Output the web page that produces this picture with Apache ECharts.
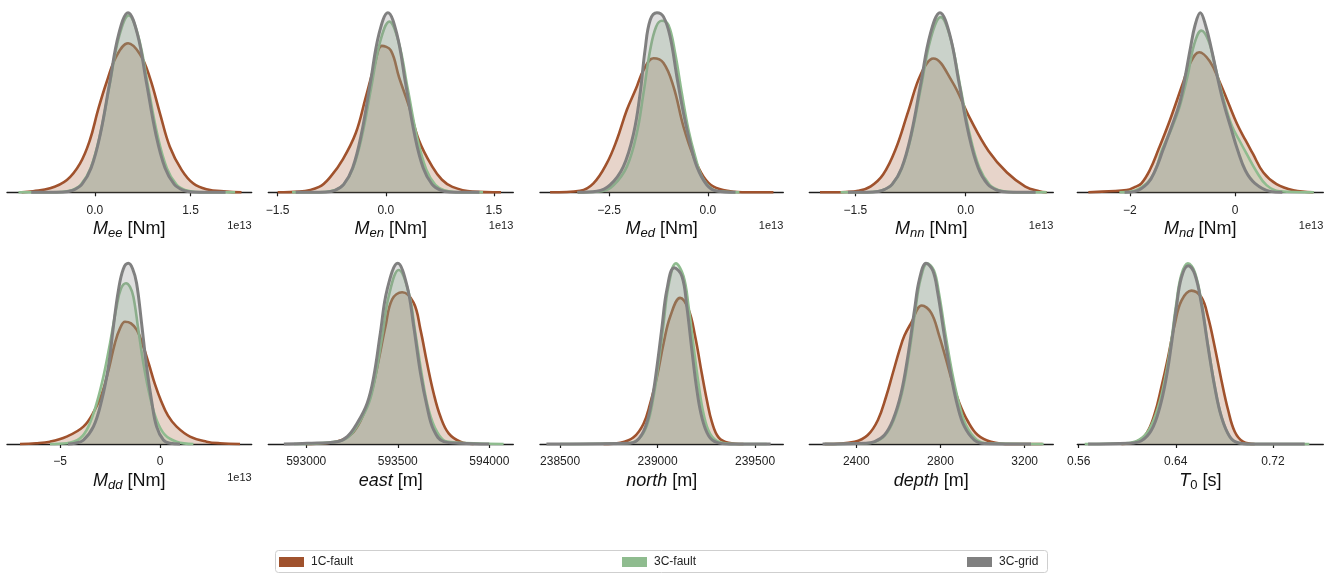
<!DOCTYPE html>
<html><head><meta charset="utf-8">
<script src="https://cdn.jsdelivr.net/npm/echarts@6/dist/echarts.min.js"></script>
<style>html,body{margin:0;padding:0;background:#fff}#chart{width:1333px;height:575px}</style>
</head><body><div id="chart"></div>
<script>
// ---------------- DATA (relative density) ----------------
const seriesNames = ['1C-fault', '3C-fault', '3C-grid'];

const mee1C = [[-1.15,0],[-0.97,0.006],[-0.705,0.022],[-0.44,0.069],[-0.235,0.16],[-0.08,0.29],[0.05,0.46],[0.18,0.61],[0.34,0.76],[0.52,0.83],[0.705,0.77],[0.86,0.64],[1.02,0.44],[1.175,0.254],[1.36,0.125],[1.54,0.05],[1.75,0.017],[2.06,0.004],[2.3,0]];
const mee3Cf = [[-1.2,0],[-0.52,0.002],[-0.37,0.011],[-0.22,0.043],[-0.07,0.133],[0.08,0.32],[0.23,0.597],[0.38,0.869],[0.53,0.985],[0.68,0.869],[0.83,0.597],[0.98,0.32],[1.13,0.133],[1.28,0.043],[1.43,0.011],[1.58,0.002],[2.2,0]];
const mee3Cg = [[-1.0,0],[-0.495,0.002],[-0.35,0.011],[-0.205,0.044],[-0.06,0.135],[0.085,0.325],[0.23,0.607],[0.375,0.883],[0.52,1],[0.665,0.883],[0.81,0.607],[0.955,0.325],[1.1,0.135],[1.245,0.044],[1.39,0.011],[1.535,0.002],[2.05,0]];

const men1C = [[-1.5,0],[-1.2,0.004],[-0.925,0.03],[-0.76,0.09],[-0.6,0.18],[-0.416,0.33],[-0.277,0.53],[-0.16,0.70],[-0.055,0.815],[0.07,0.79],[0.185,0.64],[0.324,0.477],[0.46,0.29],[0.65,0.14],[0.78,0.07],[0.925,0.03],[1.2,0.004],[1.6,0]];
const men3Cf = [[-1.3,0],[-0.843,0.002],[-0.715,0.011],[-0.588,0.042],[-0.46,0.129],[-0.333,0.308],[-0.205,0.576],[-0.078,0.838],[0.05,0.95],[0.178,0.838],[0.305,0.576],[0.433,0.308],[0.56,0.129],[0.688,0.042],[0.815,0.011],[0.943,0.002],[1.35,0]];
const men3Cg = [[-1.25,0],[-0.828,0.002],[-0.705,0.011],[-0.583,0.044],[-0.46,0.135],[-0.338,0.325],[-0.215,0.607],[-0.093,0.883],[0.03,1],[0.153,0.883],[0.275,0.607],[0.398,0.325],[0.52,0.135],[0.643,0.044],[0.765,0.011],[0.888,0.002],[1.3,0]];

const med1C = [[-3.995,0],[-3.235,0.009],[-2.897,0.05],[-2.56,0.161],[-2.306,0.291],[-2.052,0.458],[-1.816,0.579],[-1.63,0.68],[-1.377,0.746],[-1.123,0.72],[-0.87,0.588],[-0.617,0.365],[-0.363,0.199],[-0.11,0.087],[0.144,0.031],[0.566,0.006],[0.988,0],[1.66,0]];
const med3Cf = [[-3.3,0],[-2.686,0.006],[-2.39,0.039],[-2.05,0.143],[-1.8,0.328],[-1.63,0.551],[-1.46,0.793],[-1.31,0.922],[-1.165,0.955],[-0.997,0.931],[-0.828,0.774],[-0.659,0.551],[-0.49,0.347],[-0.32,0.199],[-0.152,0.087],[0.1,0.02],[0.355,0.004],[0.8,0]];
const med3Cg = [[-3.3,0],[-2.81,0.006],[-2.475,0.041],[-2.14,0.143],[-1.88,0.328],[-1.715,0.551],[-1.59,0.793],[-1.46,0.959],[-1.29,1.0],[-1.125,0.978],[-0.955,0.866],[-0.785,0.644],[-0.617,0.44],[-0.448,0.273],[-0.279,0.143],[-0.025,0.041],[0.228,0.007],[0.7,0]];

const mnn1C = [[-1.98,0],[-1.63,0.002],[-1.46,0.008],[-1.29,0.033],[-1.12,0.10],[-0.95,0.242],[-0.78,0.452],[-0.61,0.657],[-0.44,0.745],[-0.19,0.62],[0.06,0.41],[0.31,0.23],[0.56,0.11],[0.81,0.032],[1.0,0.006],[1.1,0]];
const mnn3Cf = [[-1.7,0],[-1.268,0.002],[-1.135,0.011],[-1.003,0.043],[-0.87,0.132],[-0.738,0.317],[-0.605,0.591],[-0.473,0.86],[-0.34,0.975],[-0.208,0.86],[-0.075,0.591],[0.058,0.317],[0.19,0.132],[0.323,0.043],[0.455,0.011],[0.588,0.002],[1.1,0]];
const mnn3Cg = [[-1.6,0],[-1.26,0.002],[-1.13,0.011],[-1.0,0.044],[-0.87,0.135],[-0.74,0.325],[-0.61,0.607],[-0.48,0.883],[-0.35,1],[-0.22,0.883],[-0.09,0.607],[0.04,0.325],[0.17,0.135],[0.3,0.044],[0.43,0.011],[0.56,0.002],[0.95,0]];

const mnd1C = [[-2.79,0],[-2.4,0.006],[-2.06,0.012],[-1.9,0.03],[-1.78,0.05],[-1.62,0.124],[-1.46,0.235],[-1.24,0.4],[-1.0,0.6],[-0.85,0.72],[-0.68,0.78],[-0.48,0.73],[-0.3,0.62],[-0.13,0.5],[0.04,0.38],[0.2,0.29],[0.34,0.215],[0.54,0.11],[0.79,0.045],[1.11,0.011],[1.49,0]];
const mnd3Cf = [[-2.2,0],[-1.95,0.005],[-1.68,0.05],[-1.52,0.12],[-1.39,0.235],[-1.2,0.36],[-1.05,0.48],[-0.9,0.65],[-0.78,0.82],[-0.64,0.9],[-0.5,0.84],[-0.36,0.68],[-0.22,0.52],[-0.06,0.37],[0.1,0.28],[0.22,0.215],[0.4,0.12],[0.6,0.04],[0.85,0.006],[1.5,0]];
const mnd3Cg = [[-2.1,0],[-1.9,0.005],[-1.66,0.05],[-1.52,0.12],[-1.37,0.235],[-1.2,0.37],[-1.05,0.5],[-0.95,0.64],[-0.85,0.8],[-0.76,0.93],[-0.66,1.0],[-0.56,0.93],[-0.45,0.8],[-0.34,0.65],[-0.22,0.5],[-0.08,0.36],[0.05,0.235],[0.2,0.12],[0.38,0.05],[0.67,0.005],[0.9,0]];

const mdd1C = [[-7.0,0],[-6.2,0.004],[-5.5,0.013],[-4.67,0.041],[-3.83,0.096],[-3.3,0.18],[-2.9,0.28],[-2.55,0.42],[-2.25,0.56],[-2.0,0.64],[-1.75,0.677],[-1.45,0.668],[-1.15,0.63],[-0.85,0.545],[-0.55,0.44],[-0.25,0.33],[0.05,0.24],[0.4,0.157],[0.83,0.096],[1.5,0.041],[2.33,0.013],[3.0,0.004],[4.0,0]];
const mdd3Cf = [[-5.5,0],[-4.67,0.004],[-4.0,0.031],[-3.58,0.096],[-3.17,0.225],[-2.83,0.373],[-2.5,0.557],[-2.17,0.76],[-1.95,0.86],[-1.7,0.89],[-1.5,0.87],[-1.33,0.815],[-1.08,0.631],[-0.83,0.446],[-0.5,0.262],[-0.17,0.133],[0.25,0.05],[0.83,0.013],[1.67,0]];
const mdd3Cg = [[-4.6,0],[-4.25,0.004],[-3.83,0.022],[-3.33,0.096],[-2.92,0.24],[-2.58,0.428],[-2.33,0.65],[-2.08,0.85],[-1.83,0.97],[-1.58,1.0],[-1.37,0.97],[-1.17,0.89],[-0.92,0.668],[-0.67,0.428],[-0.42,0.24],[-0.17,0.096],[0.17,0.022],[0.5,0.004],[1.0,0]];

const east1C = [[593000,0],[593097,0.004],[593187,0.019],[593260,0.069],[593315,0.17],[593360,0.3],[593396,0.467],[593433,0.652],[593469,0.8],[593524,0.84],[593587,0.781],[593624,0.633],[593660,0.448],[593696,0.281],[593733,0.152],[593778,0.059],[593842,0.013],[593914,0]];
const east3Cf = [[592933,0],[593169,0.013],[593233,0.041],[593287,0.115],[593342,0.226],[593378,0.374],[593415,0.596],[593451,0.819],[593505,0.963],[593560,0.837],[593596,0.615],[593633,0.374],[593669,0.189],[593714,0.069],[593769,0.013],[593914,0.004],[594078,0]];
const east3Cg = [[592878,0],[593006,0.004],[593169,0.013],[593224,0.041],[593278,0.115],[593333,0.226],[593369,0.374],[593405,0.615],[593442,0.855],[593500,1.0],[593551,0.874],[593587,0.652],[593624,0.393],[593660,0.207],[593696,0.078],[593751,0.013],[593842,0.004],[594000,0]];

const north1C = [[238723,0],[238809,0.007],[238877,0.037],[238928,0.112],[238962,0.223],[238997,0.372],[239031,0.558],[239065,0.706],[239116,0.809],[239159,0.744],[239193,0.595],[239227,0.39],[239253,0.242],[239279,0.121],[239313,0.037],[239364,0.007],[239441,0]];
const north3Cf = [[238500,0],[238843,0.004],[238903,0.028],[238945,0.102],[238979,0.26],[239005,0.446],[239031,0.669],[239056,0.874],[239094,1.0],[239133,0.929],[239159,0.762],[239185,0.539],[239210,0.335],[239236,0.167],[239270,0.056],[239321,0.009],[239407,0],[239560,0]];
const north3Cg = [[238430,0],[238843,0.004],[238894,0.019],[238937,0.093],[238971,0.242],[238997,0.428],[239022,0.641],[239048,0.855],[239085,0.976],[239125,0.929],[239150,0.762],[239176,0.52],[239202,0.297],[239227,0.149],[239262,0.046],[239304,0.009],[239373,0],[239580,0]];

const depth1C = [[2250,0],[2392,0.013],[2455,0.05],[2503,0.133],[2542,0.263],[2574,0.393],[2606,0.522],[2629,0.6],[2661,0.67],[2711,0.767],[2756,0.726],[2795,0.596],[2827,0.467],[2858,0.337],[2890,0.226],[2930,0.126],[2977,0.05],[3040,0.013],[3135,0],[3285,0]];
const depth3Cf = [[2250,0],[2445,0.004],[2492,0.013],[2538,0.05],[2578,0.133],[2617,0.281],[2649,0.485],[2681,0.744],[2705,0.911],[2737,1.0],[2769,0.96],[2792,0.84],[2825,0.6],[2858,0.38],[2890,0.215],[2923,0.1],[2972,0.024],[3025,0.004],[3290,0]];
const depth3Cg = [[2240,0],[2440,0.004],[2487,0.013],[2534,0.05],[2574,0.133],[2613,0.281],[2645,0.485],[2677,0.744],[2700,0.911],[2732,1.0],[2764,0.959],[2787,0.837],[2819,0.596],[2851,0.374],[2882,0.207],[2914,0.096],[2961,0.022],[3009,0.003],[3230,0]];

const t01C = [[0.5953,0],[0.6076,0.013],[0.6159,0.059],[0.6227,0.169],[0.6282,0.316],[0.6337,0.482],[0.6392,0.665],[0.6447,0.794],[0.6529,0.849],[0.6611,0.812],[0.6666,0.702],[0.6721,0.537],[0.6776,0.353],[0.6831,0.188],[0.6886,0.068],[0.6954,0.013],[0.705,0]];
const t03Cf = [[0.565,0],[0.5975,0.004],[0.609,0.02],[0.618,0.08],[0.6255,0.205],[0.6315,0.375],[0.636,0.556],[0.6402,0.765],[0.6445,0.935],[0.65,1.0],[0.6556,0.953],[0.6611,0.786],[0.6666,0.544],[0.6721,0.32],[0.6776,0.152],[0.6845,0.041],[0.6913,0.007],[0.7023,0],[0.75,0]];
const t03Cg = [[0.5678,0],[0.6008,0.004],[0.6117,0.018],[0.62,0.077],[0.6268,0.202],[0.6323,0.371],[0.6364,0.551],[0.6405,0.757],[0.6447,0.923],[0.6502,0.987],[0.6556,0.941],[0.6611,0.776],[0.6666,0.537],[0.6721,0.316],[0.6776,0.15],[0.6845,0.04],[0.6913,0.007],[0.7023,0],[0.7462,0]];

// axis ranges and tick labels per panel
const xRanges = [[-1.38,2.46],[-1.63,1.77],[-4.25,1.91],[-2.125,1.19],[-3.0,1.68],[-7.65,4.585],[592793,594131],[238397,239645],[2177,3336],[0.5589,0.7615]];
const tickValues = [[0,1.5],[-1.5,0,1.5],[-2.5,0],[-1.5,0],[-2,0],[-5,0],[593000,593500,594000],[238500,239000,239500],[2400,2800,3200],[0.56,0.64,0.72]];
const tickDecimals = [1,1,1,1,0,0,0,0,0,2];
const offsetTexts = ['1e13','1e13','1e13','1e13','1e13','1e13','','','',''];
const axisNames = ['{i|M}{s|ee}{n| [Nm]}','{i|M}{s|en}{n| [Nm]}','{i|M}{s|ed}{n| [Nm]}','{i|M}{s|nn}{n| [Nm]}','{i|M}{s|nd}{n| [Nm]}',
                   '{i|M}{s|dd}{n| [Nm]}','{i|east}{n| [m]}','{i|north}{n| [m]}','{i|depth}{n| [m]}','{i|T}{u|0}{n| [s]}'];
const panelData = [
  [mee1C, mee3Cf, mee3Cg],[men1C, men3Cf, men3Cg],[med1C, med3Cf, med3Cg],[mnn1C, mnn3Cf, mnn3Cg],[mnd1C, mnd3Cf, mnd3Cg],
  [mdd1C, mdd3Cf, mdd3Cg],[east1C, east3Cf, east3Cg],[north1C, north3Cf, north3Cg],[depth1C, depth3Cf, depth3Cg],[t01C, t03Cf, t03Cg]
];

// ---------------- STYLE / LAYOUT ----------------
const colors = ['#a0522d', '#8fbc8f', '#808080'];
const lineWidths = [2.6, 2.6, 3];
const FONT = '"Liberation Sans", Arial, Helvetica, sans-serif';
const colLeft = [7, 268.3, 540, 809.3, 1077.3];
const colWidth = [244.7, 245, 243.3, 244, 246];
const rowTop = [3.7, 254.3];
const rowHeight = [188.6, 189.7];
const axisColor = '#1c1c1c';

const grids = [], xAxes = [], yAxes = [], series = [], graphics = [];
panelData.forEach((sets, i) => {
  const row = Math.floor(i / 5), col = i % 5;
  grids.push({left: colLeft[col], top: rowTop[row], width: colWidth[col], height: rowHeight[row]});
  const dec = tickDecimals[i];
  xAxes.push({
    gridIndex: i, type: 'value', min: xRanges[i][0], max: xRanges[i][1],
    axisLine: {show: true, onZero: false, lineStyle: {color: axisColor, width: 1.3}},
    axisTick: {show: true, length: 4, customValues: tickValues[i], lineStyle: {color: axisColor, width: 1.2}},
    axisLabel: {customValues: tickValues[i], margin: 12, fontSize: 12, color: '#222', fontFamily: FONT,
      formatter: v => { const s = Number(v).toFixed(dec); return s.replace('-', '\u2212'); }},
    splitLine: {show: false},
    name: axisNames[i], nameLocation: 'middle', nameGap: 26,
    nameTextStyle: {color: '#111', fontFamily: FONT, fontSize: 18,
      rich: {
        i: {fontStyle: 'italic', fontSize: 18, lineHeight: 22, fontFamily: FONT, color: '#111'},
        s: {fontStyle: 'italic', fontSize: 13, lineHeight: 13, verticalAlign: 'bottom', fontFamily: FONT, color: '#111'},
        u: {fontSize: 13, lineHeight: 13, verticalAlign: 'bottom', fontFamily: FONT, color: '#111'},
        n: {fontSize: 18, lineHeight: 22, fontFamily: FONT, color: '#111'}
      }}
  });
  yAxes.push({gridIndex: i, type: 'value', min: 0, max: 1.05, show: false});
  sets.forEach((data, k) => {
    series.push({
      type: 'line', name: seriesNames[k], xAxisIndex: i, yAxisIndex: i, data: data,
      smooth: 0.4, showSymbol: false, symbol: 'none', clip: false, silent: true,
      z: 2 + k,
      lineStyle: {color: colors[k], width: lineWidths[k]},
      itemStyle: {color: colors[k]},
      areaStyle: {color: colors[k], opacity: 0.25}
    });
  });
  if (offsetTexts[i]) {
    graphics.push({type: 'text', x: colLeft[col] + colWidth[col], y: rowTop[row] + rowHeight[row] + 34,
      style: {text: offsetTexts[i], fill: '#222', font: '11px ' + FONT, textAlign: 'right', textVerticalAlign: 'middle'}});
  }
});

graphics.push({type: 'rect', shape: {x: 275.5, y: 550.5, width: 772, height: 22, r: 3},
  style: {fill: 'none', stroke: '#cfcfcf', lineWidth: 1}});

const legendLefts = [279, 622, 967];
const legends = seriesNames.map((n, k) => ({
  data: [n], left: legendLefts[k], top: 556, padding: 0, itemGap: 0,
  itemWidth: 25, itemHeight: 10, icon: 'rect', selectedMode: false,
  textStyle: {fontSize: 12, color: '#222', fontFamily: FONT, padding: [3, 0, 0, 2]}
}));

const chart = echarts.init(document.getElementById('chart'), null, {renderer: 'canvas'});
chart.setOption({
  animation: false,
  backgroundColor: '#fff',
  grid: grids, xAxis: xAxes, yAxis: yAxes, series: series,
  legend: legends, graphic: graphics
});
</script></body></html>
